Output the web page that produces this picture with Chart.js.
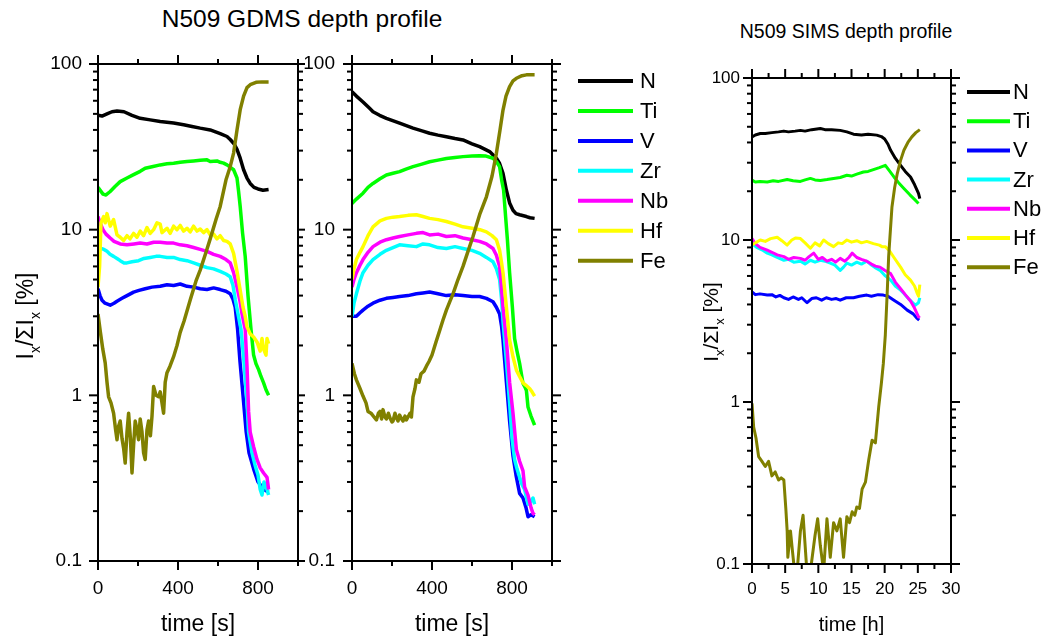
<!DOCTYPE html>
<html>
<head>
<meta charset="utf-8">
<script src="https://cdn.jsdelivr.net/npm/chart.js@4.4.1/dist/chart.umd.min.js"></script>
<style>
  body { margin: 0; background: #fff; width: 1045px; height: 641px; position: relative; overflow: hidden; font-family: "Liberation Sans", Arial, sans-serif; }
  canvas { position: absolute; top: 0; }
  .title { position: absolute; transform: translate(-50%, -50%); white-space: nowrap; color: #000; }
</style>
</head>
<body>
<div class="title" style="left:302px;top:19px;font-size:24.5px">N509 GDMS depth profile</div>
<div class="title" style="left:846px;top:31px;font-size:19.5px">N509 SIMS depth profile</div>
<canvas id="c1" width="305" height="641" style="left:0"></canvas>
<canvas id="c2" width="400" height="641" style="left:300px"></canvas>
<canvas id="c3" width="345" height="641" style="left:700px"></canvas>
<script>
const FONT = '"Liberation Sans", Arial, sans-serif';
const elements = ['N', 'Ti', 'V', 'Zr', 'Nb', 'Hf', 'Fe'];
const colors = ['#000000', '#00ff00', '#0000ff', '#00ffff', '#ff00ff', '#ffff00', '#808000'];

// y axis (log, %)
const yLabelTicks = [0.1, 1, 10, 100];
const yMinorTicks = [0.2, 0.3, 0.4, 0.5, 0.6, 0.7, 0.8, 0.9, 2, 3, 4, 5, 6, 7, 8, 9, 20, 30, 40, 50, 60, 70, 80, 90];
// x axes
const gdmsXLabels = [0, 400, 800];
const gdmsXMinor = [200, 600, 1000];
const simsXLabels = [0, 5, 10, 15, 20, 25, 30];
const simsXMinor = [2.5, 7.5, 12.5, 17.5, 22.5, 27.5];

// GDMS panel 1: [time s, %]
const g1N = [[0,49],[20,48.5],[45,50],[70,51.5],[95,52],[130,51.5],[170,49],[211,47],[261,46],[311,45],[378,44],[428,43],[470,42],[511,41],[561,40],[611,38],[645,36.5],[661,35],[680,33],[695,30.5],[711,27],[728,23],[745,20.5],[761,19],[780,18],[800,17.6],[825,17.3],[853,17.5]];
const g1Ti = [[0,18],[12,17.2],[25,16.4],[40,16.2],[61,17],[85,18.2],[111,19.5],[145,20.5],[178,21.5],[211,22.5],[236,23.5],[270,24],[311,24.6],[345,25],[378,25.2],[411,25.5],[445,25.8],[478,26],[511,26.2],[545,26.4],[561,25.8],[595,26],[611,25.5],[628,25.2],[645,24.6],[662,23.8],[678,23],[695,20.5],[703,17],[711,13.8],[723,9.5],[736,6.9],[750,4.0],[765,2.5],[778,1.75],[790,1.55],[803,1.43],[815,1.3],[828,1.19],[840,1.08],[853,1.0]];
const g1V = [[0,4.4],[10,4.0],[20,3.75],[35,3.6],[61,3.5],[80,3.6],[95,3.7],[120,3.85],[145,4.0],[178,4.2],[205,4.3],[236,4.4],[270,4.5],[311,4.55],[345,4.65],[378,4.6],[411,4.7],[445,4.55],[478,4.5],[511,4.4],[545,4.35],[578,4.45],[611,4.35],[640,4.25],[661,4.1],[675,3.8],[686,3.4],[698,2.5],[710,1.6],[725,1.0],[741,0.6],[755,0.45],[778,0.36],[800,0.3],[830,0.27],[853,0.26]];
const g1Zr = [[0,7.9],[15,7.7],[30,7.6],[45,7.4],[60,7.1],[78,6.9],[95,6.7],[111,6.5],[130,6.3],[145,6.3],[170,6.4],[203,6.5],[230,6.7],[261,6.8],[290,6.9],[311,6.9],[345,6.8],[378,6.8],[411,6.6],[445,6.5],[478,6.3],[511,6.1],[545,5.9],[578,5.8],[611,5.6],[640,5.4],[661,5.2],[675,4.6],[686,3.8],[700,3.1],[715,2.5],[730,1.6],[745,0.9],[753,0.6],[770,0.45],[785,0.38],[800,0.33],[811,0.27],[820,0.25],[830,0.3],[845,0.27],[853,0.25]];
const g1Nb = [[0,12],[10,11],[25,10],[40,9.4],[61,8.9],[80,8.5],[111,8.2],[145,8.1],[180,8.2],[211,8.3],[245,8.2],[278,8.4],[311,8.4],[345,8.3],[378,8.3],[411,8.1],[445,8.0],[478,7.8],[511,7.6],[545,7.4],[578,7.1],[611,6.9],[640,6.6],[661,6.3],[678,5.5],[695,4.5],[710,3.7],[720,3.1],[736,2.5],[745,1.5],[753,0.8],[761,0.6],[778,0.49],[795,0.41],[811,0.365],[828,0.34],[845,0.32],[853,0.27]];
const g1Hf = [[0,4.5],[8,6],[15,11],[28,12],[36,11],[45,12.5],[61,10.5],[78,11.5],[95,9.3],[111,9],[128,8.6],[145,9.2],[160,8.8],[178,9.5],[195,9.0],[211,9.8],[228,9.2],[245,10.3],[261,9.5],[278,10],[295,11],[311,10.8],[320,9.6],[345,10.2],[361,9.5],[378,10.5],[395,10],[411,10.6],[428,9.8],[445,10.2],[461,9.7],[478,10.5],[495,9.8],[511,10.1],[528,9.6],[545,10],[561,9.3],[578,9.4],[595,8.8],[611,9.2],[628,8.6],[645,8.5],[661,8.2],[678,7.2],[695,5.6],[711,4.3],[725,3.4],[736,3.0],[745,2.6],[761,2.35],[778,2.25],[795,2.1],[811,1.85],[820,2.2],[828,1.9],[840,1.75],[845,2.2],[853,2.05]];
const g1Fe = [[0,3.1],[12,2.4],[24,1.9],[36,1.57],[45,1.2],[53,0.98],[65,0.9],[78,0.78],[88,0.62],[95,0.54],[103,0.65],[111,0.7],[120,0.55],[128,0.48],[136,0.39],[145,0.6],[153,0.78],[162,0.55],[170,0.34],[178,0.5],[186,0.7],[195,0.62],[203,0.54],[211,0.72],[220,0.6],[228,0.45],[236,0.41],[245,0.62],[253,0.7],[262,0.57],[270,0.75],[278,1.13],[290,1.0],[303,0.98],[311,1.05],[320,0.9],[328,0.78],[336,1.2],[345,1.37],[360,1.5],[378,1.71],[395,2.0],[411,2.4],[430,2.8],[461,3.76],[490,4.9],[511,5.7],[540,7.3],[561,8.8],[590,11.5],[611,13.8],[640,20],[661,24],[678,29],[695,40],[711,53],[728,64],[745,72],[761,75],[790,77.5],[820,78],[853,78]];

// GDMS panel 2: [time s, %]
const g2N = [[0,68],[22,64],[55,59],[88,54],[105,51.5],[138,49],[172,47],[238,43.9],[305,41],[350,39.5],[388,38.2],[430,37.2],[472,36.4],[515,35.5],[555,34.8],[600,33],[638,31.7],[688,29.6],[722,27],[738,25.1],[755,21.9],[772,17.3],[788,14.5],[805,13.1],[820,12.5],[838,12.3],[872,12],[890,11.8],[913,11.7]];
const g2Ti = [[0,14.4],[22,15.3],[55,16.6],[80,18],[105,19],[140,20.3],[172,21.4],[205,21.9],[238,22.4],[270,23.2],[305,24],[345,24.8],[388,25.7],[430,26.3],[472,26.9],[515,27.3],[555,27.6],[600,27.8],[638,27.9],[670,27.8],[705,27],[722,25.8],[738,24],[748,20],[758,17.3],[768,12],[777,8.7],[788,5.5],[802,3.4],[813,2.2],[825,1.85],[838,1.56],[855,1.18],[865,1.12],[872,1.07],[880,0.85],[895,0.75],[913,0.66]];
const g2V = [[0,3.0],[22,3.0],[40,3.15],[55,3.27],[80,3.45],[105,3.6],[140,3.75],[172,3.85],[205,3.9],[238,3.95],[280,4.0],[322,4.1],[355,4.15],[388,4.2],[430,4.1],[472,4.0],[515,4.05],[555,4.0],[600,3.95],[638,3.95],[672,3.85],[705,3.67],[722,3.4],[738,3.1],[748,2.6],[755,2.16],[772,1.2],[788,0.7],[805,0.43],[820,0.33],[838,0.256],[855,0.24],[870,0.21],[880,0.185],[895,0.19],[913,0.185]];
const g2Zr = [[0,3.0],[10,3.6],[22,4.1],[40,4.9],[55,5.5],[80,6.1],[105,6.6],[140,7.1],[172,7.5],[205,7.8],[238,8.1],[280,8.0],[322,7.9],[355,8.2],[388,8.1],[430,7.8],[472,7.7],[515,7.9],[555,7.7],[600,7.5],[638,7.2],[672,6.8],[705,6.4],[722,5.8],[738,5.0],[748,3.8],[755,2.8],[772,1.6],[788,0.9],[800,0.55],[813,0.41],[825,0.36],[838,0.32],[850,0.29],[863,0.27],[880,0.22],[895,0.23],[905,0.24],[913,0.22]];
const g2Nb = [[0,4.5],[10,5],[22,5.5],[40,6.1],[55,6.6],[80,7.3],[105,7.9],[140,8.4],[172,8.7],[205,8.9],[238,9.1],[280,9.3],[322,9.5],[355,9.6],[388,9.3],[430,9.4],[472,9.1],[515,9.2],[555,8.9],[600,8.7],[638,8.5],[672,8.2],[705,7.7],[722,7.0],[738,6.0],[745,4.8],[755,3.4],[772,2.16],[788,1.2],[805,0.78],[822,0.47],[838,0.4],[855,0.35],[863,0.28],[880,0.25],[895,0.21],[905,0.194],[913,0.19]];
const g2Hf = [[0,5.0],[10,5.8],[22,6.6],[40,7.3],[55,7.9],[80,9.2],[105,10.4],[140,11.3],[172,11.7],[205,11.9],[238,12],[280,12.2],[322,12.3],[355,12],[388,11.7],[430,11.5],[472,11.2],[515,10.8],[555,10.4],[600,10.2],[640,10.0],[672,9.7],[700,9.2],[722,8.7],[738,7.5],[748,6.3],[755,5.5],[770,3.6],[788,2.16],[805,1.71],[822,1.42],[838,1.3],[855,1.19],[870,1.15],[888,1.1],[900,1.05],[913,0.99]];
const g2Fe = [[0,1.56],[12,1.35],[22,1.24],[40,1.1],[55,0.99],[70,0.9],[80,0.8],[95,0.78],[110,0.74],[122,0.71],[132,0.78],[140,0.8],[148,0.72],[155,0.82],[165,0.74],[172,0.72],[182,0.78],[190,0.73],[200,0.69],[205,0.7],[215,0.78],[222,0.73],[230,0.7],[238,0.76],[248,0.72],[255,0.7],[265,0.75],[272,0.71],[280,0.74],[290,0.78],[297,0.74],[305,0.98],[315,1.1],[322,1.24],[335,1.2],[345,1.35],[360,1.4],[372,1.5],[385,1.6],[400,1.75],[420,2.1],[440,2.5],[455,2.85],[472,3.27],[490,3.7],[505,4.1],[530,5.0],[555,6.0],[580,7.4],[605,9.1],[640,12.5],[672,15.8],[700,21],[722,28.9],[740,40],[755,52.7],[770,64],[788,73],[805,79],[822,82],[850,85],[872,86],[913,86]];

// SIMS panel: [time h, %]
const sN = [[0,43.3],[0.5,44.5],[1.25,45.4],[2,45.5],[3,46],[4,46.5],[4.8,47],[5.5,46.5],[6.5,47],[7.3,47.5],[8,47],[9,48],[10.3,48.8],[11,48],[12,48],[13.3,47.5],[14.3,46.5],[15.3,45],[16.5,44.5],[17.5,45],[18.8,44.4],[19.5,43.5],[20,42],[20.5,39],[20.9,35.8],[21.6,32],[22.4,28.9],[23.1,26.5],[23.9,24.5],[24.5,22],[25.1,19.4],[25.3,18]];
const sTi = [[0,23.4],[0.5,22.8],[1.2,23],[2.3,22.8],[3.2,23.2],[4,23],[5.3,23.6],[6.2,23.2],[7.3,23],[8,23.5],[8.8,24],[9.5,23.5],[10.3,23.3],[11.3,23.6],[12.3,24],[13.3,24.3],[14.3,25.1],[15,24.8],[15.8,25.5],[16.8,26.3],[17.5,26.5],[18.3,27.2],[19.2,28],[20.1,28.9],[20.7,26.8],[21.4,24.5],[22.1,22.6],[22.9,20.8],[23.8,19],[24.5,17.8],[25.1,16.8]];
const sV = [[0,4.78],[0.5,4.6],[1.2,4.65],[2.3,4.57],[3,4.6],[3.6,4.45],[4.2,4.55],[4.8,4.4],[5.5,4.3],[6.2,4.45],[7,4.3],[7.5,4.4],[8.3,4.1],[9,4.35],[9.7,4.4],[10.5,4.25],[11.2,4.4],[12,4.3],[12.7,4.35],[13.3,4.25],[14.2,4.4],[15.3,4.4],[16.2,4.5],[17.3,4.57],[18,4.5],[19,4.6],[19.8,4.57],[20.5,4.5],[21.4,4.25],[22.4,4.0],[23.4,3.69],[24.3,3.5],[24.9,3.28],[25.2,3.2]];
const sZr = [[0,9.5],[0.7,9.0],[1.5,8.7],[2.3,8.3],[3,8.1],[3.8,7.8],[4.8,7.5],[5.5,7.6],[6.3,7.3],[7.3,7.4],[8,7.1],[8.8,7.5],[9.5,7.3],[10.3,7.5],[11,7.4],[11.8,7.2],[12.5,7.0],[13.3,6.5],[13.8,6.8],[14.3,7.2],[15,7.0],[15.8,7.3],[16.5,7.1],[17.3,7.4],[18,7.0],[18.7,6.7],[19.3,6.5],[20.1,6.0],[20.9,5.65],[21.6,5.2],[22.4,4.9],[22.9,4.68],[23.7,4.3],[24.6,3.96],[25.1,4.1],[25.3,4.4]];
const sNb = [[0,10.2],[0.5,9.5],[1.2,9.0],[2.3,8.65],[3,8.4],[3.8,8.1],[4.8,7.9],[5.5,7.6],[6.3,7.8],[7.3,7.7],[8,7.5],[8.6,7.9],[9.3,8.3],[10,7.6],[10.6,7.8],[11.3,7.4],[12,7.6],[12.6,7.3],[13.3,7.7],[14,7.4],[14.6,7.8],[15.1,8.3],[15.8,7.8],[16.5,7.6],[17.3,7.4],[18,7.1],[18.6,6.9],[19.3,6.8],[20,6.5],[20.9,6.2],[21.6,5.5],[22.4,5.0],[23.1,4.6],[23.9,4.2],[24.5,3.8],[25.1,3.35],[25.3,3.4]];
const sHf = [[0,9.3],[0.5,9.6],[1.25,10],[2,9.8],[2.8,10.2],[3.8,10.4],[4.5,9.9],[5.3,9.3],[6,10],[6.6,10.3],[7.3,10.2],[8,9.6],[8.8,8.9],[9.5,9.6],[10.2,9.2],[10.8,10],[11.5,9.5],[12.3,9.1],[13,9.6],[13.6,9.5],[14.3,10],[15,9.7],[15.8,9.9],[16.5,9.6],[17.3,9.8],[18.3,9.5],[19.2,9.3],[19.6,9.1],[20.1,9.1],[20.7,8.6],[21.4,7.8],[22.4,6.8],[23.1,6.1],[23.9,5.65],[24.5,5.2],[24.9,4.7],[25.1,4.5],[25.3,5.3]];
const sFe = [[0,0.98],[0.25,0.7],[0.6,0.6],[1,0.46],[1.5,0.43],[2,0.4],[2.5,0.43],[3,0.35],[3.5,0.37],[4,0.33],[4.4,0.34],[4.8,0.33],[5.1,0.22],[5.3,0.16],[5.4,0.11],[5.8,0.16],[6.1,0.12],[6.3,0.1],[6.8,0.09],[7.3,0.16],[7.7,0.2],[8.2,0.1],[8.8,0.09],[9.5,0.15],[9.9,0.19],[10.3,0.13],[10.8,0.09],[11.3,0.19],[11.8,0.11],[12.3,0.18],[12.8,0.16],[13.3,0.19],[13.8,0.11],[14.3,0.196],[14.7,0.18],[15.1,0.21],[15.5,0.2],[15.8,0.225],[16.2,0.22],[16.6,0.29],[17.1,0.32],[17.6,0.44],[18.1,0.58],[18.6,0.56],[19.1,0.93],[19.5,1.3],[19.8,1.73],[20.1,2.6],[20.4,4.9],[20.6,7.9],[21.1,16],[21.5,21],[21.9,25.7],[22.4,31],[22.9,35.8],[23.5,40],[24.1,43.3],[24.7,46],[25.3,48]];

// frame with outward ticks on all four sides
function framePlugin(xMajor, xMinor) {
  return {
    id: 'frame',
    afterDraw(chart) {
      const { ctx, chartArea: a, scales: { x, y } } = chart;
      ctx.save();
      ctx.strokeStyle = '#000';
      ctx.lineWidth = 2;
      ctx.strokeRect(a.left, a.top, a.right - a.left, a.bottom - a.top);
      const seg = (x1, y1, x2, y2) => { ctx.beginPath(); ctx.moveTo(x1, y1); ctx.lineTo(x2, y2); ctx.stroke(); };
      const xt = (v, len) => { const p = x.getPixelForValue(v); seg(p, a.bottom, p, a.bottom + len); seg(p, a.top, p, a.top - len); };
      const yt = (v, len) => { const p = y.getPixelForValue(v); seg(a.left, p, a.left - len, p); seg(a.right, p, a.right + len, p); };
      xMajor.forEach(v => xt(v, 9));
      xMinor.forEach(v => xt(v, 5));
      yLabelTicks.forEach(v => yt(v, 9));
      yMinorTicks.forEach(v => yt(v, 5));
      ctx.restore();
    }
  };
}

// rotated y title with subscripts: I_x/ΣI_x [%]
function yTitlePlugin(bx, cy, size) {
  return {
    id: 'ytitle',
    afterDraw(chart) {
      const ctx = chart.ctx;
      const parts = [['I', 0], ['x', 1], ['/ΣI', 0], ['x', 1], [' [%]', 0]];
      const big = size + 'px ' + FONT, small = Math.round(size * 0.62) + 'px ' + FONT;
      let w = 0;
      parts.forEach(p => { ctx.font = p[1] ? small : big; w += ctx.measureText(p[0]).width; });
      ctx.save();
      ctx.translate(bx, cy);
      ctx.rotate(-Math.PI / 2);
      ctx.fillStyle = '#000';
      ctx.textBaseline = 'alphabetic';
      let cx = -w / 2;
      parts.forEach(p => {
        ctx.font = p[1] ? small : big;
        ctx.fillText(p[0], cx, p[1] ? size * 0.3 : 0);
        cx += ctx.measureText(p[0]).width;
      });
      ctx.restore();
    }
  };
}

function legendPlugin(x1, x2, tx, y0, dy) {
  return {
    id: 'sidelegend',
    afterDraw(chart) {
      const ctx = chart.ctx;
      ctx.save();
      ctx.font = '22px ' + FONT;
      ctx.textBaseline = 'middle';
      chart.data.datasets.forEach((ds, i) => {
        const yy = y0 + i * dy;
        ctx.strokeStyle = ds.borderColor;
        ctx.lineWidth = 4;
        ctx.beginPath(); ctx.moveTo(x1, yy); ctx.lineTo(x2, yy); ctx.stroke();
        ctx.fillStyle = '#000';
        ctx.fillText(ds.label, tx, yy + 1);
      });
      ctx.restore();
    }
  };
}

function makeChart(id, cfg) {
  const datasets = cfg.series.map((s, i) => ({
    label: elements[i],
    data: s.map(p => ({ x: p[0], y: p[1] })),
    borderColor: colors[i],
    backgroundColor: colors[i],
    borderWidth: cfg.lineWidth,
    pointRadius: 0,
    tension: 0,
    borderJoinStyle: 'round',
    order: elements.length - i,
  }));
  const plugins = [framePlugin(cfg.xLabels, cfg.xMinor)];
  if (cfg.yTitle) plugins.push(yTitlePlugin(...cfg.yTitle));
  if (cfg.legend) plugins.push(legendPlugin(...cfg.legend));
  return new Chart(document.getElementById(id), {
    type: 'line',
    data: { datasets },
    options: {
      responsive: false,
      animation: false,
      devicePixelRatio: 1,
      layout: { padding: cfg.padding },
      plugins: { legend: { display: false }, tooltip: { enabled: false } },
      scales: {
        x: {
          type: 'linear', min: cfg.xMin, max: cfg.xMax,
          afterFit: s => { s.height = cfg.xHeight; },
          afterBuildTicks: s => { s.ticks = cfg.xLabels.map(v => ({ value: v })); },
          grid: { display: false, drawTicks: false },
          border: { display: false },
          ticks: { padding: cfg.xPad, color: '#000', autoSkip: false, maxRotation: 0, font: { family: FONT, size: cfg.tickSize }, callback: v => String(v) },
          title: { display: true, text: cfg.xTitle, color: '#000', font: { family: FONT, size: cfg.xTitleSize }, padding: { top: 0, bottom: cfg.xTitlePad } },
        },
        y: {
          type: 'logarithmic', min: 0.1, max: 100,
          afterFit: s => { s.width = cfg.yWidth; },
          afterBuildTicks: s => { s.ticks = yLabelTicks.map(v => ({ value: v })); },
          grid: { display: false, drawTicks: false },
          border: { display: false },
          ticks: { padding: cfg.yPad, color: '#000', autoSkip: false, font: { family: FONT, size: cfg.tickSize }, callback: v => String(v) },
        },
      },
    },
    plugins,
  });
}

makeChart('c1', {
  series: [g1N, g1Ti, g1V, g1Zr, g1Nb, g1Hf, g1Fe], lineWidth: 3.5,
  padding: { top: 64, right: 7, bottom: 0, left: 0 }, yWidth: 98, xHeight: 80,
  xMin: 0, xMax: 1000, xLabels: gdmsXLabels, xMinor: gdmsXMinor,
  tickSize: 19, xPad: 16, yPad: 16, xTitle: 'time [s]', xTitleSize: 23, xTitlePad: 3,
  yTitle: [33, 316, 23],
});
makeChart('c2', {
  series: [g2N, g2Ti, g2V, g2Zr, g2Nb, g2Hf, g2Fe], lineWidth: 3.5,
  padding: { top: 64, right: 148, bottom: 0, left: 0 }, yWidth: 52, xHeight: 80,
  xMin: 0, xMax: 1000, xLabels: gdmsXLabels, xMinor: gdmsXMinor,
  tickSize: 19, xPad: 16, yPad: 17, xTitle: 'time [s]', xTitleSize: 23, xTitlePad: 3,
  legend: [278, 333, 340, 81, 29.95],
});
makeChart('c3', {
  series: [sN, sTi, sV, sZr, sNb, sHf, sFe], lineWidth: 3,
  padding: { top: 78, right: 94, bottom: 0, left: 0 }, yWidth: 52, xHeight: 77,
  xMin: 0, xMax: 30, xLabels: simsXLabels, xMinor: simsXMinor,
  tickSize: 17, xPad: 15, yPad: 12, xTitle: 'time [h]', xTitleSize: 20, xTitlePad: 4,
  yTitle: [18, 322, 21],
  legend: [267, 310, 313, 92, 29.2],
});
</script>
</body>
</html>
